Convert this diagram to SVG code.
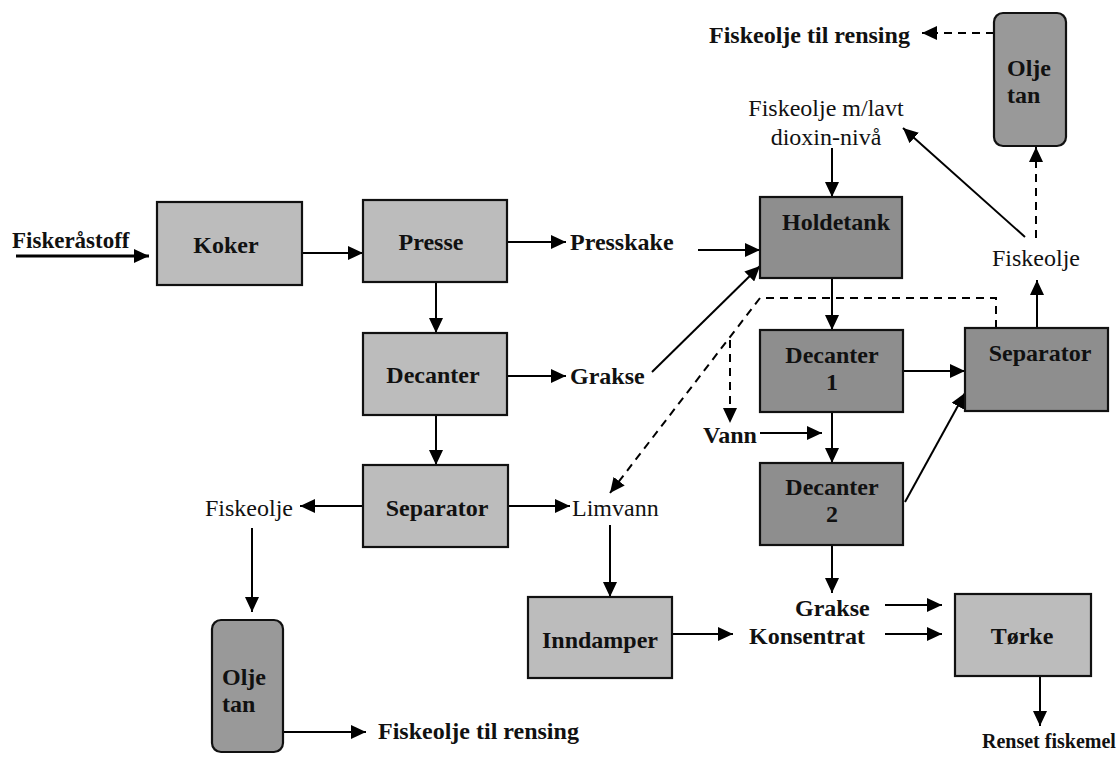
<svg xmlns="http://www.w3.org/2000/svg" width="1119" height="758" viewBox="0 0 1119 758">
<defs>
<marker id="ah" markerUnits="userSpaceOnUse" markerWidth="16" markerHeight="14" refX="15" refY="7" orient="auto">
<path d="M0,0 L15,7 L0,14 z" fill="#000"/>
</marker>
<style>
.lt{fill:#bcbcbc;stroke:#111;stroke-width:2.2}
.dk{fill:#8e8e8e;stroke:#111;stroke-width:2.2}
.tk{fill:#999;stroke:#111;stroke-width:2.2}
.b{font-family:"Liberation Serif","Times New Roman",serif;font-weight:bold;font-size:24px;fill:#111}
.r{font-family:"Liberation Serif","Times New Roman",serif;font-size:24px;fill:#111}
.c{text-anchor:middle}
.ln{stroke:#000;stroke-width:2;fill:none;marker-end:url(#ah)}
.ds{stroke:#000;stroke-width:2;fill:none;stroke-dasharray:8,6}
</style>
</defs>
<rect width="1119" height="758" fill="#fff"/>

<g id="connectors">
<line class="ln" x1="16" y1="256" x2="149" y2="256" style="stroke-width:3"/>
<line class="ln" x1="302" y1="253" x2="363" y2="253"/>
<line class="ln" x1="507" y1="242" x2="566" y2="242"/>
<line class="ln" x1="698" y1="250" x2="760" y2="250"/>
<line class="ln" x1="652" y1="372" x2="760" y2="266"/>
<line class="ln" x1="436" y1="282" x2="436" y2="333"/>
<line class="ln" x1="507" y1="376" x2="566" y2="376"/>
<line class="ln" x1="436" y1="415" x2="436" y2="465"/>
<line class="ln" x1="363" y1="506" x2="300" y2="506"/>
<line class="ln" x1="508" y1="506" x2="570" y2="506"/>
<line class="ln" x1="252" y1="528" x2="252" y2="612"/>
<line class="ln" x1="283" y1="732" x2="366" y2="732"/>
<line class="ln" x1="610" y1="525" x2="610" y2="597"/>
<line class="ln" x1="672" y1="634" x2="733" y2="634"/>
<line class="ln" x1="885" y1="605" x2="942" y2="605"/>
<line class="ln" x1="885" y1="634" x2="942" y2="634"/>
<line class="ln" x1="1040" y1="676" x2="1040" y2="726"/>
<line class="ln" x1="832" y1="148" x2="832" y2="197"/>
<line class="ln" x1="832" y1="278" x2="832" y2="330"/>
<line class="ln" x1="832" y1="412" x2="832" y2="463"/>
<line class="ln" x1="760" y1="433" x2="822" y2="433"/>
<line class="ln" x1="903" y1="371" x2="965" y2="371"/>
<line class="ln" x1="905" y1="502" x2="965" y2="393"/>
<line class="ln" x1="832" y1="545" x2="832" y2="593"/>
<line class="ln" x1="1037" y1="328" x2="1037" y2="280"/>
<line class="ln" x1="1025" y1="237" x2="903" y2="128"/>
<path class="ds" d="M1036,238 V147" marker-end="url(#ah)"/>
<path class="ds" d="M994,33 H922" marker-end="url(#ah)"/>
<path class="ds" d="M996,328 V298 H760 L610,493" marker-end="url(#ah)"/>
<path class="ds" d="M730,340 V423" marker-end="url(#ah)"/>
</g>

<g id="fiskerastoff"><text class="b" x="12" y="248" style="font-size:23px">Fiskeråstoff</text></g>
<g id="koker"><rect class="lt" x="157" y="202" width="145" height="83"/><text class="b c" x="226" y="253">Koker</text></g>
<g id="presse"><rect class="lt" x="363" y="200" width="144" height="82"/><text class="b c" x="431" y="250">Presse</text></g>
<g id="presskake"><text class="b" x="570" y="250">Presskake</text></g>
<g id="decanter"><rect class="lt" x="363" y="333" width="144" height="82"/><text class="b c" x="433" y="383">Decanter</text></g>
<g id="grakse1"><text class="b" x="570" y="384">Grakse</text></g>
<g id="separator1"><rect class="lt" x="363" y="465" width="145" height="82"/><text class="b c" x="437" y="516">Separator</text></g>
<g id="fiskeolje1"><text class="r" x="205" y="516">Fiskeolje</text></g>
<g id="limvann"><text class="r" x="572" y="516">Limvann</text></g>
<g id="oljetan1"><rect class="tk" x="212" y="620" width="71" height="132" rx="9"/><text class="b" x="222" y="685">Olje</text><text class="b" x="222" y="712">tan</text></g>
<g id="rensing1"><text class="b" x="378" y="739">Fiskeolje til rensing</text></g>
<g id="inndamper"><rect class="lt" x="528" y="597" width="144" height="81"/><text class="b c" x="600" y="648">Inndamper</text></g>
<g id="konsentrat"><text class="b" x="749" y="644">Konsentrat</text></g>
<g id="grakse2"><text class="b" x="795" y="616">Grakse</text></g>
<g id="torke"><rect class="lt" x="955" y="594" width="136" height="82"/><text class="b c" x="1022" y="644">Tørke</text></g>
<g id="renset"><text class="b" x="982" y="748" style="font-size:20px">Renset fiskemel</text></g>
<g id="holdetank"><rect class="dk" x="760" y="197" width="142" height="81"/><text class="b c" x="836" y="230">Holdetank</text></g>
<g id="dioxin"><text class="r c" x="826" y="116">Fiskeolje m/lavt</text><text class="r c" x="826" y="145">dioxin-nivå</text></g>
<g id="decanter1"><rect class="dk" x="760" y="330" width="143" height="82"/><text class="b c" x="832" y="363">Decanter</text><text class="b c" x="832" y="390">1</text></g>
<g id="decanter2"><rect class="dk" x="760" y="463" width="143" height="82"/><text class="b c" x="832" y="495">Decanter</text><text class="b c" x="832" y="522">2</text></g>
<g id="vann"><text class="b" x="703" y="443">Vann</text></g>
<g id="separator2"><rect class="dk" x="965" y="328" width="143" height="83"/><text class="b c" x="1040" y="361">Separator</text></g>
<g id="fiskeolje2"><text class="r" x="992" y="266">Fiskeolje</text></g>
<g id="oljetan2"><rect class="tk" x="994" y="13" width="72" height="133" rx="9"/><text class="b" x="1007" y="76">Olje</text><text class="b" x="1007" y="103">tan</text></g>
<g id="rensing2"><text class="b" x="709" y="43">Fiskeolje til rensing</text></g>
</svg>
